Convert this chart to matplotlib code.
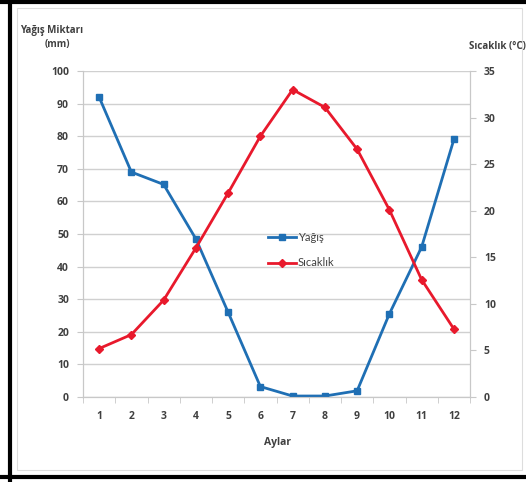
import matplotlib.pyplot as plt
from matplotlib.lines import Line2D
from matplotlib.patches import Rectangle
import numpy as np

plt.rcParams['font.family'] = ['Open Sans', 'DejaVu Sans']

aylar = ['1', '2', '3', '4', '5', '6', '7', '8', '9', '10', '11', '12']
yagis = [92, 69, 65.2, 48.5, 26, 3.2, 0.3, 0.3, 1.9, 25.5, 46, 79]
sicaklik = [5.2, 6.7, 10.4, 16.0, 21.9, 28.0, 33.0, 31.1, 26.6, 20.1, 12.6, 7.3]

mavi = '#1f6fb4'
kirmizi = '#e8192c'
yazi = '#404040'
cizgi = '#c8c8c8'

fig = plt.figure(figsize=(5.26, 4.82), dpi=100)

# dis cerceve
fig.patches.append(Rectangle((17 / 526, 12 / 482), 505 / 526, 462 / 482, transform=fig.transFigure,
                             fill=False, edgecolor='#dddddd', lw=0.8))
fig.add_artist(Line2D([10 / 526, 10 / 526], [0, 1], color='black', lw=3, transform=fig.transFigure))
fig.add_artist(Line2D([0, 1], [1 - 1.5 / 482, 1 - 1.5 / 482], color='black', lw=3, transform=fig.transFigure))
fig.add_artist(Line2D([0, 1], [5 / 482, 5 / 482], color='black', lw=3, transform=fig.transFigure))

ax = fig.add_axes([83 / 526, 85 / 482, 387 / 526, 326 / 482])
ax2 = ax.twinx()

x = np.arange(len(aylar))
l1, = ax.plot(x, yagis, color=mavi, lw=2, marker='s', ms=5, label='Yağış', zorder=3)
l2, = ax2.plot(x, sicaklik, color=kirmizi, lw=2, marker='D', ms=4.5, label='Sıcaklık', zorder=3)

ax.set_xlim(-0.5, 11.5)
ax.set_ylim(0, 100)
ax2.set_ylim(0, 35)
ax.set_yticks(range(0, 101, 10))
ax2.set_yticks(range(0, 36, 5))
ax.set_xticks(x)
ax.set_xticklabels(aylar)
ax.set_xticks(np.arange(-0.5, 12, 1), minor=True)
ax.tick_params(axis='x', which='major', length=0, pad=10)
ax.tick_params(axis='x', which='minor', length=4, color=cizgi)
ax.tick_params(axis='y', length=4, color=cizgi, pad=6)
ax2.tick_params(axis='y', length=4, color=cizgi, pad=6)

ax.grid(axis='y', color='#d0d0d0', lw=1)
ax.set_axisbelow(True)
for a in (ax, ax2):
    a.spines['top'].set_visible(False)
    for s in ('left', 'right', 'bottom'):
        a.spines[s].set_color(cizgi)
    for lab in a.get_xticklabels() + a.get_yticklabels():
        lab.set_fontsize(7.5)
        lab.set_fontweight('bold')
        lab.set_color(yazi)

fig.text(52 / 526, 1 - 31 / 482, 'Yağış Miktarı', ha='center', va='center', fontsize=7, fontweight='bold', color=yazi)
fig.text(57 / 526, 1 - 45 / 482, '(mm)', ha='center', va='center', fontsize=7, fontweight='bold', color=yazi)
fig.text(526 / 526, 1 - 46 / 482, 'Sıcaklık (°C)', ha='right', va='center', fontsize=7, fontweight='bold', color=yazi)
fig.text(277 / 526, 1 - 443 / 482, 'Aylar', ha='center', va='center', fontsize=7.5, fontweight='bold', color=yazi)

leg = fig.legend(handles=[l1, l2], loc='upper left', bbox_to_anchor=(258 / 526, 1 - 222 / 482), frameon=False,
                 prop={'family': ['Lato', 'DejaVu Sans'], 'size': 8}, handlelength=2.5, handletextpad=0.2,
                 labelspacing=1.3, labelcolor=yazi)

fig.savefig('out.png', dpi=100)
